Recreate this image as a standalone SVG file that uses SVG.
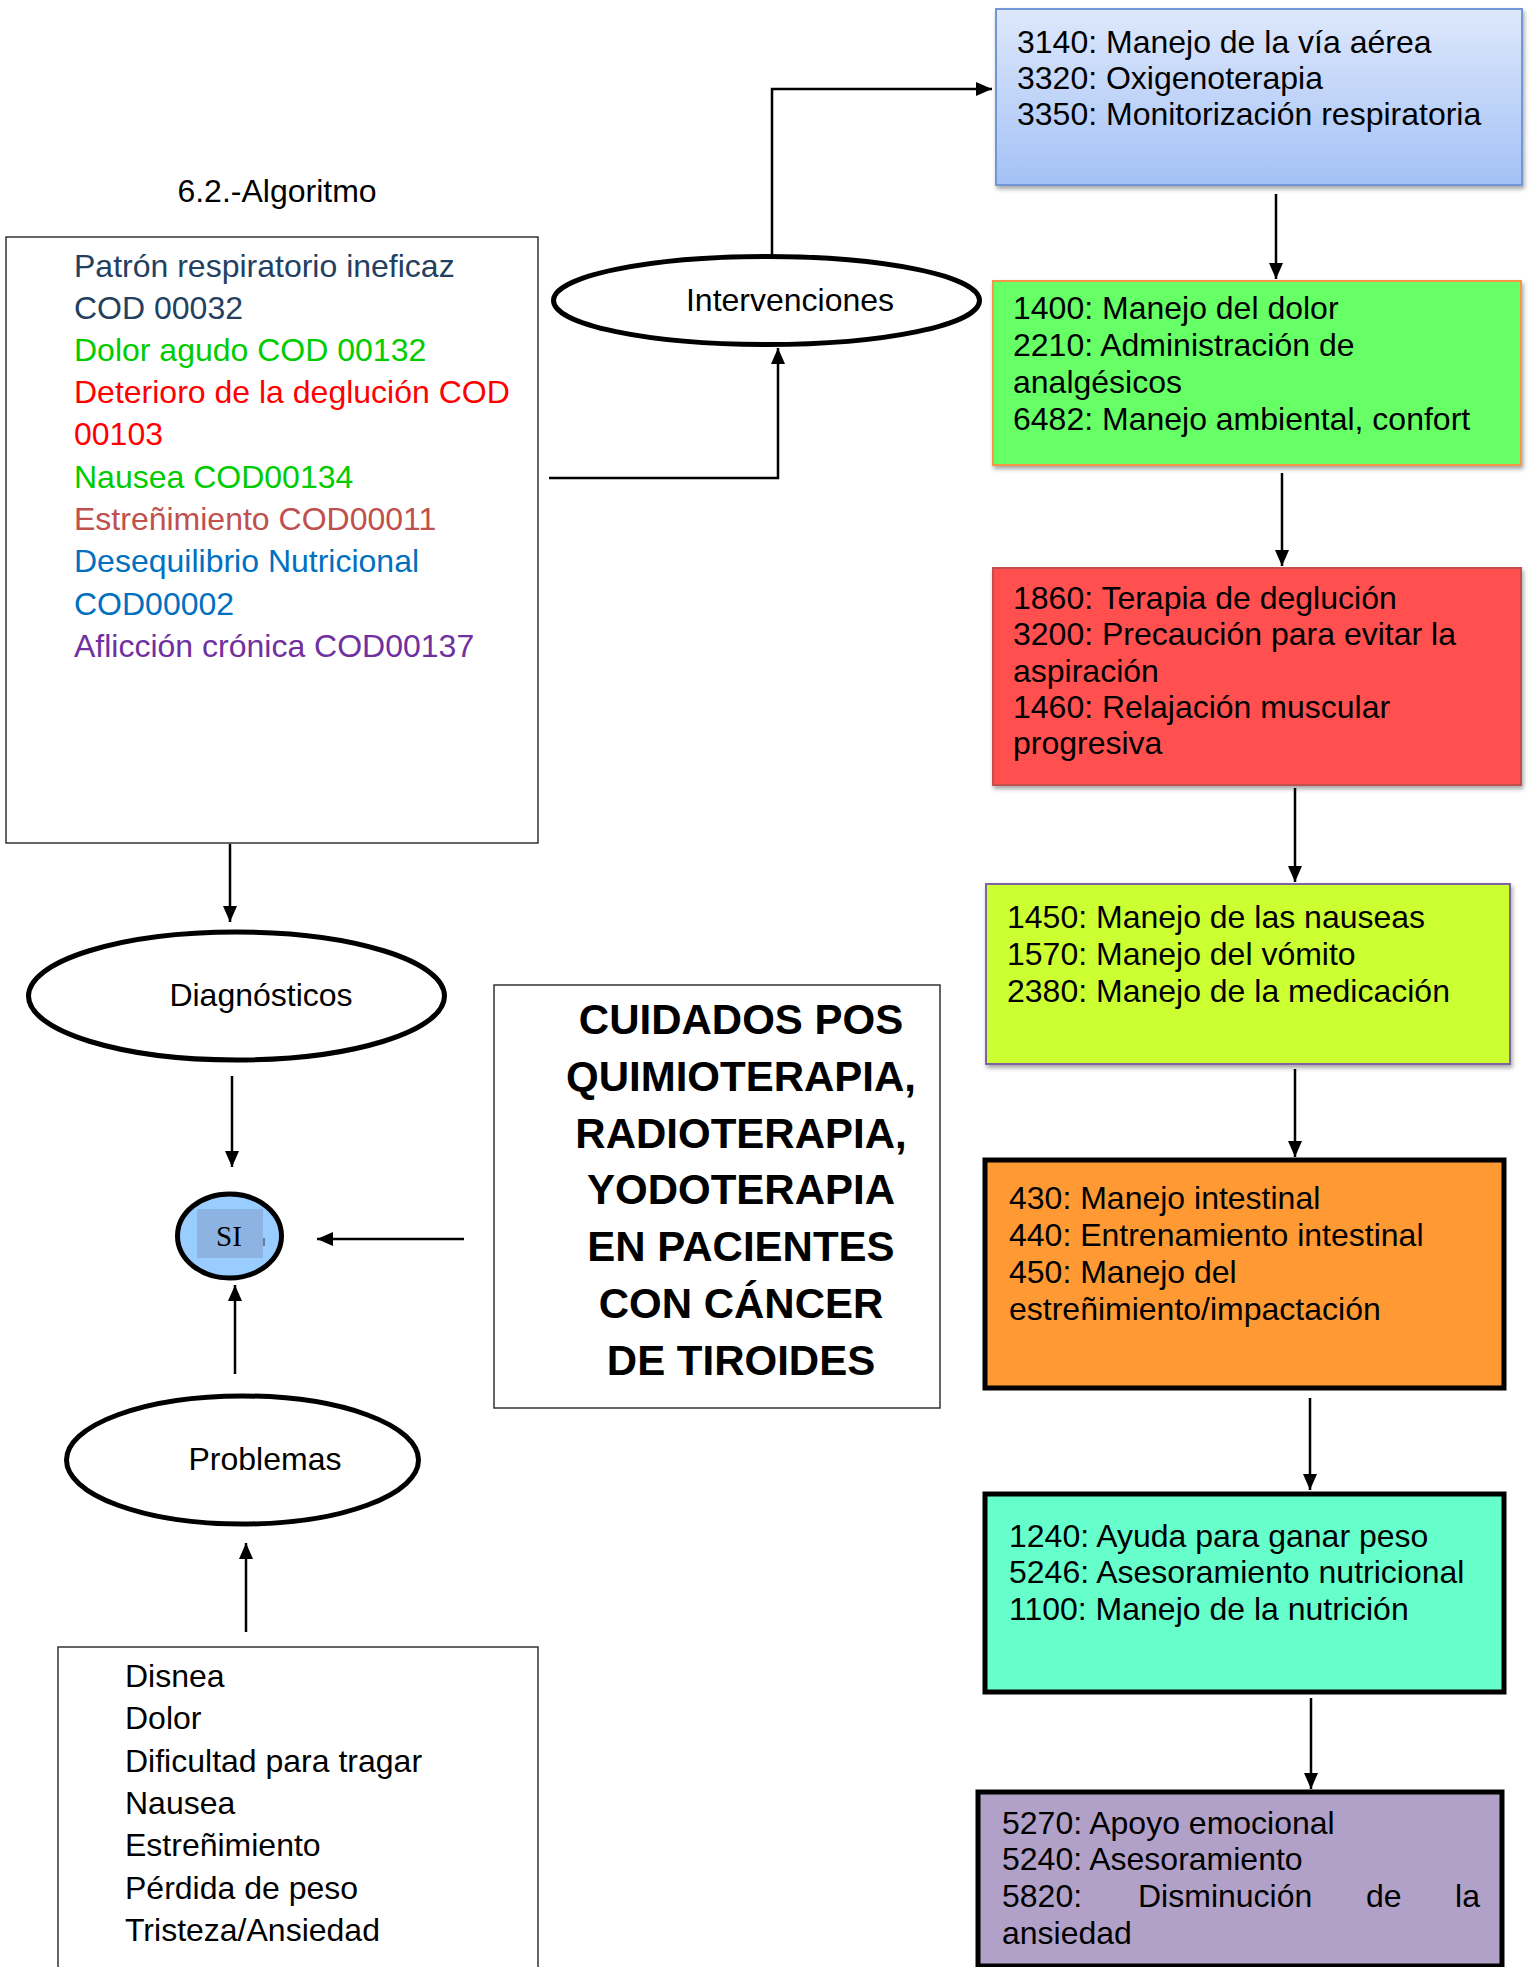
<svg xmlns="http://www.w3.org/2000/svg" width="1533" height="1967" viewBox="0 0 1533 1967">
<style>
text{font-family:"Liberation Sans",Arial,sans-serif;font-size:32px;fill:#000}
.bold{font-weight:bold;font-size:42px}
.ell{fill:#fff;stroke:#000;stroke-width:5}
.plain{fill:#fff;stroke:#333;stroke-width:1.5}
.thick{stroke:#000;stroke-width:5}
.conn{fill:none;stroke:#000;stroke-width:2.5}
</style>
<defs>
<linearGradient id="gblue" x1="0" y1="0" x2="0" y2="1">
<stop offset="0" stop-color="#dee8fb"/>
<stop offset="1" stop-color="#a3c1f6"/>
</linearGradient>
<filter id="sh" x="-5%" y="-5%" width="110%" height="115%">
<feDropShadow dx="1.5" dy="3" stdDeviation="2" flood-color="#000" flood-opacity="0.35"/>
</filter>
<marker id="ah" viewBox="0 0 16 14" refX="16" refY="7" markerWidth="16" markerHeight="14" markerUnits="userSpaceOnUse" orient="auto">
<path d="M0,0 L16,7 L0,14 z" fill="#000"/>
</marker>
</defs>
<rect width="1533" height="1967" fill="#fff"/>

<text id="title" x="277" y="202" text-anchor="middle">6.2.-Algoritmo</text>

<g id="diagnoses-box">
<rect class="plain" x="6" y="237" width="532" height="606"/>
<text x="74" y="277" style="fill:#243f60">Patrón respiratorio ineficaz</text>
<text x="74" y="319" style="fill:#243f60">COD 00032</text>
<text x="74" y="361" style="fill:#00cc00">Dolor agudo COD 00132</text>
<text x="74" y="403" style="fill:#ff0000">Deterioro de la deglución COD</text>
<text x="74" y="445" style="fill:#ff0000">00103</text>
<text x="74" y="488" style="fill:#00cc00">Nausea COD00134</text>
<text x="74" y="530" style="fill:#c0504d">Estreñimiento COD00011</text>
<text x="74" y="572" style="fill:#0070c0">Desequilibrio Nutricional</text>
<text x="74" y="615" style="fill:#0070c0">COD00002</text>
<text x="74" y="657" style="fill:#7030a0">Aflicción crónica COD00137</text>
</g>

<g id="intervenciones">
<ellipse class="ell" cx="766.5" cy="300.5" rx="213" ry="44"/>
<text x="790" y="311" text-anchor="middle">Intervenciones</text>
</g>

<g id="box-respiratory">
<rect x="996" y="9" width="526" height="176" fill="url(#gblue)" stroke="#7396d6" stroke-width="2" filter="url(#sh)"/>
<text x="1017" y="53">3140: Manejo de la vía aérea</text>
<text x="1017" y="89">3320: Oxigenoterapia</text>
<text x="1017" y="125">3350: Monitorización respiratoria</text>
</g>

<g id="box-pain">
<rect x="993" y="281" width="528" height="184" fill="#66ff66" stroke="#f79646" stroke-width="2" filter="url(#sh)"/>
<text x="1013" y="319">1400: Manejo del dolor</text>
<text x="1013" y="356">2210: Administración de</text>
<text x="1013" y="393">analgésicos</text>
<text x="1013" y="430">6482: Manejo ambiental, confort</text>
</g>

<g id="box-swallow">
<rect x="993" y="568" width="528" height="217" fill="#ff5050" stroke="#c0504d" stroke-width="2" filter="url(#sh)"/>
<text x="1013" y="609">1860: Terapia de deglución</text>
<text x="1013" y="645">3200: Precaución para evitar la</text>
<text x="1013" y="682">aspiración</text>
<text x="1013" y="718">1460: Relajación muscular</text>
<text x="1013" y="754">progresiva</text>
</g>

<g id="box-nausea">
<rect x="986" y="884" width="524" height="180" fill="#ccff33" stroke="#8064a2" stroke-width="2" filter="url(#sh)"/>
<text x="1007" y="928">1450: Manejo de las nauseas</text>
<text x="1007" y="965">1570: Manejo del vómito</text>
<text x="1007" y="1002">2380: Manejo de la medicación</text>
</g>

<g id="box-bowel">
<rect class="thick" x="985" y="1160" width="519" height="228" fill="#ff9933"/>
<text x="1009" y="1209">430: Manejo intestinal</text>
<text x="1009" y="1246">440: Entrenamiento intestinal</text>
<text x="1009" y="1283">450: Manejo del</text>
<text x="1009" y="1320">estreñimiento/impactación</text>
</g>

<g id="box-nutrition">
<rect class="thick" x="985" y="1494" width="519" height="198" fill="#66ffcc"/>
<text x="1009" y="1547">1240: Ayuda para ganar peso</text>
<text x="1009" y="1583">5246: Asesoramiento nutricional</text>
<text x="1009" y="1620">1100: Manejo de la nutrición</text>
</g>

<g id="box-emotional">
<rect class="thick" x="978" y="1792" width="524" height="174" fill="#b1a0c7"/>
<text x="1002" y="1834">5270: Apoyo emocional</text>
<text x="1002" y="1870">5240: Asesoramiento</text>
<text x="1002" y="1907">5820:</text>
<text x="1138" y="1907">Disminución</text>
<text x="1366" y="1907">de</text>
<text x="1480" y="1907" text-anchor="end">la</text>
<text x="1002" y="1944">ansiedad</text>
</g>

<g id="diagnosticos">
<ellipse class="ell" cx="236.5" cy="996" rx="208" ry="64"/>
<text x="261" y="1006" text-anchor="middle">Diagnósticos</text>
</g>

<g id="si">
<ellipse cx="229.5" cy="1236" rx="52" ry="42" fill="#99ccff" stroke="#000" stroke-width="5"/>
<rect x="197" y="1209" width="66" height="49" fill="#8db3e2"/>
<line x1="264" y1="1238" x2="264" y2="1246" stroke="#333" stroke-width="1"/>
<text x="229" y="1246" text-anchor="middle" style="font-family:'Liberation Serif','Times New Roman',serif;font-size:29px">SI</text>
</g>

<g id="title-box">
<rect class="plain" x="494" y="985" width="446" height="423"/>
<text class="bold" x="741" y="1034" text-anchor="middle">CUIDADOS POS</text>
<text class="bold" x="741" y="1091" text-anchor="middle">QUIMIOTERAPIA,</text>
<text class="bold" x="741" y="1148" text-anchor="middle">RADIOTERAPIA,</text>
<text class="bold" x="741" y="1204" text-anchor="middle">YODOTERAPIA</text>
<text class="bold" x="741" y="1261" text-anchor="middle">EN PACIENTES</text>
<text class="bold" x="741" y="1318" text-anchor="middle">CON CÁNCER</text>
<text class="bold" x="741" y="1375" text-anchor="middle">DE TIROIDES</text>
</g>

<g id="problemas">
<ellipse class="ell" cx="242.5" cy="1460" rx="176" ry="64"/>
<text x="265" y="1470" text-anchor="middle">Problemas</text>
</g>

<g id="problems-box">
<rect class="plain" x="58" y="1647" width="480" height="330"/>
<text x="125" y="1687">Disnea</text>
<text x="125" y="1729">Dolor</text>
<text x="125" y="1772">Dificultad para tragar</text>
<text x="125" y="1814">Nausea</text>
<text x="125" y="1856">Estreñimiento</text>
<text x="125" y="1899">Pérdida de peso</text>
<text x="125" y="1941">Tristeza/Ansiedad</text>
</g>

<g id="connectors">
<polyline class="conn" points="549,478 778,478 778,348" marker-end="url(#ah)"/>
<polyline class="conn" points="772,256 772,89 992,89" marker-end="url(#ah)"/>
<line class="conn" x1="1276" y1="194" x2="1276" y2="279" marker-end="url(#ah)"/>
<line class="conn" x1="1282" y1="473" x2="1282" y2="566" marker-end="url(#ah)"/>
<line class="conn" x1="1295" y1="788" x2="1295" y2="882" marker-end="url(#ah)"/>
<line class="conn" x1="1295" y1="1069" x2="1295" y2="1157" marker-end="url(#ah)"/>
<line class="conn" x1="1310" y1="1398" x2="1310" y2="1490" marker-end="url(#ah)"/>
<line class="conn" x1="1311" y1="1698" x2="1311" y2="1789" marker-end="url(#ah)"/>
<line class="conn" x1="230" y1="844" x2="230" y2="922" marker-end="url(#ah)"/>
<line class="conn" x1="232" y1="1076" x2="232" y2="1167" marker-end="url(#ah)"/>
<line class="conn" x1="464" y1="1239" x2="317" y2="1239" marker-end="url(#ah)"/>
<line class="conn" x1="235" y1="1374" x2="235" y2="1285" marker-end="url(#ah)"/>
<line class="conn" x1="246" y1="1632" x2="246" y2="1543" marker-end="url(#ah)"/>
</g>
</svg>
